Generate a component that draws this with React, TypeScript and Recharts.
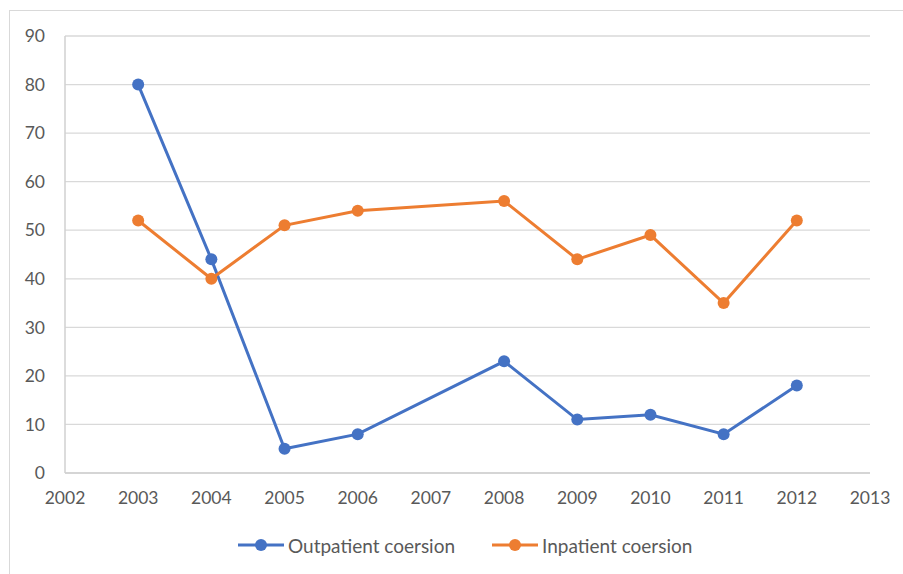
import React from 'react';
import { LineChart, Line, XAxis, YAxis, CartesianGrid, Legend } from 'recharts';

const years = [2003, 2004, 2005, 2006, 2008, 2009, 2010, 2011, 2012];
const outpatient = [80, 44, 5, 8, 23, 11, 12, 8, 18];
const inpatient = [52, 40, 51, 54, 56, 44, 49, 35, 52];
const xTicks = [2002, 2003, 2004, 2005, 2006, 2007, 2008, 2009, 2010, 2011, 2012, 2013];
const yTicks = [0, 10, 20, 30, 40, 50, 60, 70, 80, 90];

const data = years.map((y, i) => ({ year: y, out: outpatient[i], inp: inpatient[i] }));

const FONT = 'Lato, "Open Sans", sans-serif';
const BLUE = '#4472C4';
const ORANGE = '#ED7D31';

const LegendContent = (props: any) => {
  const items = [
    { name: 'Outpatient coersion', color: BLUE, x: 237 },
    { name: 'Inpatient coersion', color: ORANGE, x: 491 },
  ];
  return (
    <div style={{ position: 'relative', width: 903, height: 30 }}>
      {items.map((it) => (
        <div key={it.name} style={{ position: 'absolute', left: it.x, top: 0, display: 'flex', alignItems: 'center', height: 30 }}>
          <svg width={48} height={16} style={{ display: 'block' }}>
            <line x1={1} y1={8} x2={47} y2={8} stroke={it.color} strokeWidth={3} />
            <circle cx={24} cy={8} r={6} fill={it.color} />
          </svg>
          <span style={{ fontFamily: FONT, fontSize: 19, color: '#595959', marginLeft: 3, whiteSpace: 'nowrap' }}>{it.name}</span>
        </div>
      ))}
    </div>
  );
};

export default function App() {
  return (
    <div style={{ position: 'absolute', left: 0, top: 0, width: 903, height: 574, overflow: 'hidden', background: '#fff' }}>
      <div style={{ position: 'absolute', left: 9, top: 10, width: 1000, height: 1000, border: '1px solid #d9d9d9' }} />
      <div style={{ position: 'absolute', left: 0, top: 0 }}>
        <LineChart width={903} height={574} data={data} margin={{ top: 36, right: 33, left: 0, bottom: 71 }}>
          <CartesianGrid vertical={false} stroke="#d9d9d9" strokeWidth={1.3} />
          <XAxis
            dataKey="year"
            type="number"
            domain={[2002, 2013]}
            ticks={xTicks}
            interval={0}
            tickLine={false}
            tickSize={0}
            tickMargin={19}
            height={30}
            axisLine={{ stroke: '#d0d0d0', strokeWidth: 1.5 }}
            tick={{ fill: '#595959', fontSize: 17.5, fontFamily: FONT }}
          />
          <YAxis
            type="number"
            domain={[0, 90]}
            ticks={yTicks}
            interval={0}
            width={65}
            tickLine={false}
            tickSize={0}
            tickMargin={20}
            axisLine={{ stroke: '#d0d0d0', strokeWidth: 1.5 }}
            tick={{ fill: '#595959', fontSize: 17.5, fontFamily: FONT }}
          />
          <Legend
            verticalAlign="middle"
            align="center"
            layout="horizontal"
            content={<LegendContent />}
            wrapperStyle={{ position: 'absolute', left: 0, top: 530, width: 903, height: 30 }}
          />
          <Line
            dataKey="out"
            name="Outpatient coersion"
            stroke={BLUE}
            strokeWidth={3}
            dot={{ r: 6, fill: BLUE, stroke: BLUE, strokeWidth: 0 }}
            isAnimationActive={false}
          />
          <Line
            dataKey="inp"
            name="Inpatient coersion"
            stroke={ORANGE}
            strokeWidth={3}
            dot={{ r: 6, fill: ORANGE, stroke: ORANGE, strokeWidth: 0 }}
            isAnimationActive={false}
          />
        </LineChart>
      </div>
    </div>
  );
}
